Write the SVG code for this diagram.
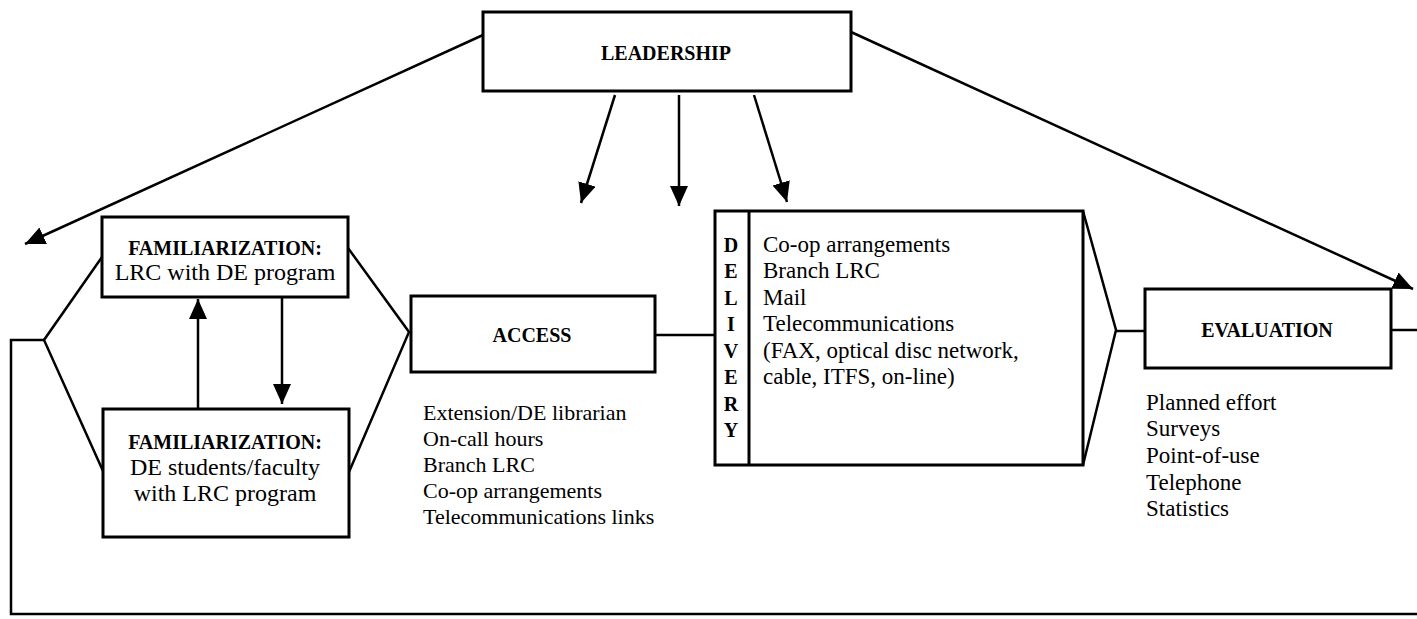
<svg xmlns="http://www.w3.org/2000/svg" width="1417" height="619" viewBox="0 0 1417 619">
<style>
.bg{fill:#ffffff}
.box{fill:#ffffff;stroke:#000;stroke-width:3}
.ln{fill:none;stroke:#000;stroke-width:2.5;stroke-linejoin:miter}
.arr{fill:none;stroke:#000;stroke-width:2.5;marker-end:url(#ah)}
.t{font-family:"Liberation Serif","Times New Roman",serif;fill:#000}
.cap{font-size:20px;font-weight:bold}
.box-lc{font-size:24px}
.lst{font-size:22px}
.dl{font-size:23px}
</style>
<defs>
<marker id="ah" markerUnits="userSpaceOnUse" markerWidth="22" markerHeight="20" refX="20" refY="9" orient="auto">
<path d="M0,0 L20,9 L0,18 z" fill="#000"/>
</marker>
</defs>
<rect class="bg" x="0" y="0" width="1417" height="619"/>

<g id="connectors">
<!-- leadership outward arrows -->
<path class="arr" d="M483,35 L25,244"/>
<path class="arr" d="M851,32 L1413,289"/>
<path class="arr" d="M615,95 L581,203"/>
<path class="arr" d="M679,95 L679,206"/>
<path class="arr" d="M754,95 L787,202"/>
<!-- between familiarization boxes -->
<path class="arr" d="M198,409 L198,299"/>
<path class="arr" d="M282,297 L282,404"/>
<!-- left hexagon side and feedback loop -->
<path class="ln" d="M102,257 L44,340 L103,471"/>
<path class="ln" d="M44,340 L11,340 L11,614 L1417,614"/>
<!-- right hexagon side to access -->
<path class="ln" d="M348,248 L409,332 L349,472"/>
<!-- access to delivery -->
<path class="ln" d="M655,335 L715,335"/>
<!-- delivery chevron to evaluation -->
<path class="ln" d="M1083,211 L1116,330 L1083,465"/>
<path class="ln" d="M1116,331 L1145,331"/>
<!-- evaluation to right edge -->
<path class="ln" d="M1391,330 L1417,330"/>
</g>

<g id="leadership">
<rect class="box" x="483" y="12" width="368" height="79"/>
<text class="t cap" x="666" y="60" text-anchor="middle">LEADERSHIP</text>
</g>

<g id="fam-lrc">
<rect class="box" x="102" y="217" width="246" height="80"/>
<text class="t cap" x="225" y="255" text-anchor="middle">FAMILIARIZATION:</text>
<text class="t box-lc" x="225" y="280" text-anchor="middle">LRC with DE program</text>
</g>

<g id="fam-de">
<rect class="box" x="103" y="409" width="246" height="128"/>
<text class="t cap" x="225" y="449" text-anchor="middle">FAMILIARIZATION:</text>
<text class="t box-lc" x="225" y="475" text-anchor="middle">DE students/faculty</text>
<text class="t box-lc" x="225" y="501" text-anchor="middle">with LRC program</text>
</g>

<g id="access">
<rect class="box" x="411" y="296" width="244" height="76"/>
<text class="t cap" x="532" y="342" text-anchor="middle">ACCESS</text>
<text class="t lst" x="423" y="420">Extension/DE librarian</text>
<text class="t lst" x="423" y="446">On-call hours</text>
<text class="t lst" x="423" y="472">Branch LRC</text>
<text class="t lst" x="423" y="498">Co-op arrangements</text>
<text class="t lst" x="423" y="524">Telecommunications links</text>
</g>

<g id="delivery">
<rect class="box" x="715" y="211" width="368" height="254"/>
<line class="ln" x1="749" y1="211" x2="749" y2="465" style="stroke-width:3"/>
<g class="t cap" text-anchor="middle">
<text x="731" y="252">D</text>
<text x="731" y="278">E</text>
<text x="731" y="305">L</text>
<text x="731" y="331">I</text>
<text x="731" y="358">V</text>
<text x="731" y="384">E</text>
<text x="731" y="411">R</text>
<text x="731" y="437">Y</text>
</g>
<text class="t dl" x="763" y="252">Co-op arrangements</text>
<text class="t dl" x="763" y="278">Branch LRC</text>
<text class="t dl" x="763" y="305">Mail</text>
<text class="t dl" x="763" y="331">Telecommunications</text>
<text class="t dl" x="763" y="358">(FAX, optical disc network,</text>
<text class="t dl" x="763" y="384">cable, ITFS, on-line)</text>
</g>

<g id="evaluation">
<rect class="box" x="1145" y="289" width="246" height="79"/>
<text class="t cap" x="1267" y="337" text-anchor="middle">EVALUATION</text>
<text class="t dl" x="1146" y="410">Planned effort</text>
<text class="t dl" x="1146" y="436">Surveys</text>
<text class="t dl" x="1146" y="463">Point-of-use</text>
<text class="t dl" x="1146" y="490">Telephone</text>
<text class="t dl" x="1146" y="516">Statistics</text>
</g>
</svg>
